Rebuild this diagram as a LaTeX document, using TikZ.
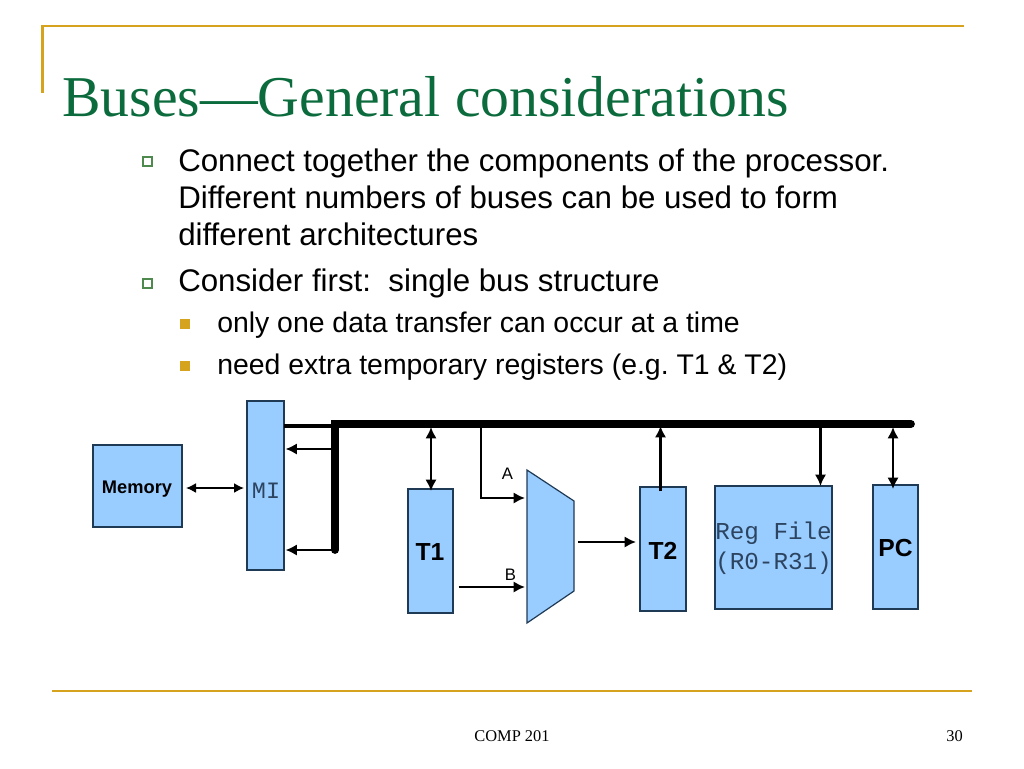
\documentclass[tikz,border=0pt]{standalone}
\usepackage{fontspec}
\setmainfont{Liberation Sans}
\newfontfamily\seriffont{Liberation Serif}
\newfontfamily\monofont{Liberation Mono}
\usetikzlibrary{arrows.meta}
\frenchspacing
\definecolor{gold}{HTML}{D6A31E}
\definecolor{titlegreen}{HTML}{0B6B3C}
\definecolor{boxblue}{HTML}{99CCFF}
\definecolor{boxedge}{HTML}{1F3A55}
\definecolor{monotext}{HTML}{2C4460}
\definecolor{bulletgreen}{HTML}{4E8A4E}
\tikzset{
  x=0.75pt,y=-0.75pt,
  box/.style 2 args={draw=boxedge,fill=boxblue,line width=0.9pt,inner sep=0pt,minimum width=#1*0.75pt,minimum height=#2*0.75pt},
  rule/.style={draw=gold,line width=1.6pt},
  bodytext/.style={anchor=base west,inner sep=0pt,font=\fontsize{23.45}{27}\selectfont},
  subtext/.style={anchor=base west,inner sep=0pt,font=\fontsize{21.3}{25}\selectfont},
  boldlabel/.style={inner sep=0pt,font=\fontsize{18.5}{21}\selectfont\bfseries},
  monolabel/.style={inner sep=0pt,align=center,text=monotext,font=\fontsize{18.2}{22.8}\selectfont\monofont},
  smalllabel/.style={inner sep=0pt,font=\fontsize{12.5}{14}\selectfont},
  foot/.style={inner sep=0pt,font=\fontsize{12.3}{14}\selectfont\seriffont},
  hollow/.style={draw=bulletgreen,line width=1.1pt,fill=white,inner sep=0pt,minimum size=6.5pt},
  solid bullet/.style={fill=gold,inner sep=0pt,minimum size=7.5pt},
  thin both/.style={line width=1.2pt,{Latex[length=7.5pt,width=7.5pt]}-{Latex[length=7.5pt,width=7.5pt]}},
  med arrow/.style={line width=2.2pt,-{Latex[length=8.5pt,width=8.5pt]}},
  med both/.style={line width=2.2pt,{Latex[length=8.5pt,width=8.5pt]}-{Latex[length=8.5pt,width=8.5pt]}},
  med line/.style={line width=2.4pt},
  busline/.style={line width=5.8pt,line cap=round},
}
\begin{document}
\begin{tikzpicture}
\useasboundingbox (0,0) rectangle (1024,768);
% frame rules
\coordinate (tl) at (42.5,26);
\coordinate (tr) at (964,26);
\coordinate (tb) at (42.5,93);
\coordinate (fl) at (52,691);
\coordinate (fr) at (972,691);
\draw[rule] (tb) -- (tl) -- (tr);
\draw[rule] (fl) -- (fr);
% title and text
\node[anchor=base west,inner sep=0pt,text=titlegreen,font=\fontsize{43.3}{50}\selectfont\seriffont] (title) at (62,116) {Buses—General considerations};
\node[hollow] (b1) at (147.5,161.5) {};
\node[bodytext] (l1) at (178,171) {Connect together the components of the processor.};
\node[bodytext] (l2) at (178,208) {Different numbers of buses can be used to form};
\node[bodytext] (l3) at (178,245) {different architectures};
\node[hollow] (b2) at (147.5,283.5) {};
\node[bodytext] (l4) at (178,291) {Consider first:\ \ single bus structure};
\node[solid bullet] (b3) at (185,324) {};
\node[subtext] (l5) at (217,332) {only one data transfer can occur at a time};
\node[solid bullet] (b4) at (185,365.5) {};
\node[subtext] (l6) at (217,374) {need extra temporary registers (e.g. T1 \& T2)};
% boxes
\node[box={89}{82}] (mem) at (137.5,486) {};
\node[boldlabel,font=\fontsize{13.7}{16}\selectfont\bfseries] (memt) at (137,489) {Memory};
\node[box={37}{169}] (mi) at (265.5,485.5) {};
\node[monolabel,font=\fontsize{17.6}{20}\selectfont\monofont] (mit) at (266,491) {MI};
\node[box={45}{124}] (t1) at (430.5,551) {};
\node[boldlabel] (t1t) at (430,552.5) {T1};
\node[box={46}{124}] (t2) at (663,549) {};
\node[boldlabel] (t2t) at (663,550.5) {T2};
\node[box={117}{123}] (reg) at (773.5,547.5) {};
\node[monolabel] (regt) at (773.5,548) {Reg File\\(R0-R31)};
\node[box={45}{124}] (pc) at (895.5,547) {};
\node[boldlabel] (pct) at (895.5,548) {PC};
% ALU
\coordinate (m1) at (527,470);
\coordinate (m2) at (574,501);
\coordinate (m3) at (574,591);
\coordinate (m4) at (527,623);
\draw[draw=boxedge,fill=boxblue,line width=0.9pt] (m1) -- (m2) -- (m3) -- (m4) -- cycle;
% bus
\coordinate (busL) at (335,424);
\coordinate (busR) at (911,424);
\coordinate (busB) at (335,550);
\draw[busline] (busB) -- (busL) -- (busR);
% MI links
\coordinate (miA) at (284,426);
\coordinate (miAb) at (335,426);
\coordinate (miB) at (335,449);
\coordinate (miBe) at (285.5,449);
\coordinate (miC) at (335,550);
\coordinate (miCe) at (285.5,550);
\draw[med line] (miA) -- (miAb);
\draw[med arrow] (miB) -- (miBe);
\draw[med arrow] (miC) -- (miCe);
\coordinate (memE) at (186,488);
\coordinate (miW) at (244,488);
\draw[thin both] (memE) -- (miW);
% registers to bus
\coordinate (t1a) at (431,427);
\coordinate (t1b) at (431,491);
\draw[med both] (t1a) -- (t1b);
\coordinate (t2a) at (660.5,491);
\coordinate (t2b) at (660.5,426);
\draw[med arrow] (t2a) -- (t2b);
\coordinate (ra) at (820.5,427);
\coordinate (rb) at (820.5,486);
\draw[med arrow] (ra) -- (rb);
\coordinate (pa) at (893,427);
\coordinate (pb) at (893,489);
\draw[med both] (pa) -- (pb);
% ALU inputs/outputs
\coordinate (aa) at (481,424);
\coordinate (ab) at (481,498);
\coordinate (ac) at (525,498);
\draw[med arrow] (aa) -- (ab) -- (ac);
\coordinate (ba) at (458.5,587);
\coordinate (bb) at (525,587);
\draw[med arrow] (ba) -- (bb);
\coordinate (oa) at (578,542);
\coordinate (ob) at (636,542);
\draw[med arrow] (oa) -- (ob);
\node[smalllabel] (la) at (507.5,474) {A};
\node[smalllabel] (lb) at (510.5,575) {B};
% footer
\node[foot] (f1) at (512,736) {COMP 201};
\node[foot] (f2) at (954.5,736) {30};
\end{tikzpicture}
\end{document}
